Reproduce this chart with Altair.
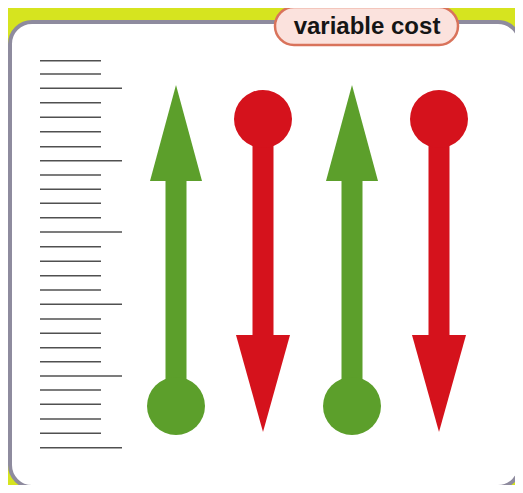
import altair as alt
import pandas as pd

# ---- data (reference pixel coordinates, y grows downward) ----
tick_y = [60.7, 74, 88.3, 102.7, 117.3, 131.7, 146.7, 160.7, 175, 189.3, 203.3,
          217.7, 232, 246.7, 261.3, 275.7, 290, 304.3, 319, 333.3, 347.7, 361.7,
          376, 390, 404.3, 419, 433.3, 447.7]
tick_long = [i % 5 == 2 for i in range(len(tick_y))]

arrow_x = [176, 263, 352, 439]
arrow_dir = ["up", "down", "up", "down"]
arrow_color = ["#5c9f2b", "#d5121c", "#5c9f2b", "#d5121c"]
shaft_top = [178, 119, 178, 119]
shaft_bottom = [406, 340, 406, 340]
head_tip_y = [85, 432, 85, 432]
head_base_y = [181, 335, 181, 335]
head_half = [26, 27, 26, 27]
circle_y = [406, 119, 406, 119]

label_text = ["variable cost"]

W, H = 507, 477
X = lambda f: alt.X(f, type="quantitative", scale=alt.Scale(domain=[8, 515], range=[0, W]), axis=None)
Y = lambda f: alt.Y(f, type="quantitative", scale=alt.Scale(domain=[8, 485], range=[0, H]), axis=None)

card = pd.DataFrame({"x": [10], "x2": [520], "y": [22], "y2": [487]})
card_layer = alt.Chart(card).mark_rect(
    fill="white", stroke="#8e8b9e", strokeWidth=4, cornerRadius=22
).encode(x=X("x"), x2="x2", y=Y("y"), y2="y2")

ticks = pd.DataFrame({
    "y": tick_y,
    "x": [40] * len(tick_y),
    "x2": [122 if l else 101 for l in tick_long],
})
tick_layer = alt.Chart(ticks).mark_rule(color="#505050", strokeWidth=1.6).encode(
    x=X("x"), x2="x2", y=Y("y")
)

pill = pd.DataFrame({"x": [275], "x2": [458], "y": [7], "y2": [45]})
pill_layer = alt.Chart(pill).mark_rect(
    fill="#fbe2dd", stroke="#d9735b", strokeWidth=2.5, cornerRadius=19
).encode(x=X("x"), x2="x2", y=Y("y"), y2="y2")

label = pd.DataFrame({"t": label_text, "x": [367], "y": [34]})
label_layer = alt.Chart(label).mark_text(
    font="Liberation Sans", fontWeight="bold", fontSize=24, color="#151515",
    align="center", baseline="alphabetic"
).encode(x=X("x"), y=Y("y"), text="t:N")

shafts = pd.DataFrame({"x": arrow_x, "y": shaft_top, "y2": shaft_bottom, "c": arrow_color})
shaft_layer = alt.Chart(shafts).mark_rule(strokeWidth=21, strokeCap="butt").encode(
    x=X("x"), y=Y("y"), y2="y2", color=alt.Color("c:N", scale=None)
)

head_rows = []
for i in range(len(arrow_x)):
    head_rows.append({"id": i, "y": head_tip_y[i], "xl": arrow_x[i], "xr": arrow_x[i], "c": arrow_color[i]})
    head_rows.append({"id": i, "y": head_base_y[i], "xl": arrow_x[i] - head_half[i],
                      "xr": arrow_x[i] + head_half[i], "c": arrow_color[i]})
heads = pd.DataFrame(head_rows)
head_layer = alt.Chart(heads).mark_area(orient="horizontal", opacity=1).encode(
    y=Y("y"), x=X("xl"), x2="xr", detail="id:N", color=alt.Color("c:N", scale=None)
)

circles = pd.DataFrame({"x": arrow_x, "y": circle_y, "c": arrow_color})
circle_layer = alt.Chart(circles).mark_circle(size=58 * 58, opacity=1).encode(
    x=X("x"), y=Y("y"), color=alt.Color("c:N", scale=None)
)

chart = alt.layer(
    card_layer, tick_layer, pill_layer, label_layer, shaft_layer, head_layer, circle_layer
).properties(
    width=W, height=H, padding=0, autosize=alt.AutoSizeParams(type="none"),
    background="#d6e41f"
).configure_view(stroke=None)

chart.save("out.html", embed_options={"renderer": "svg", "actions": False})
